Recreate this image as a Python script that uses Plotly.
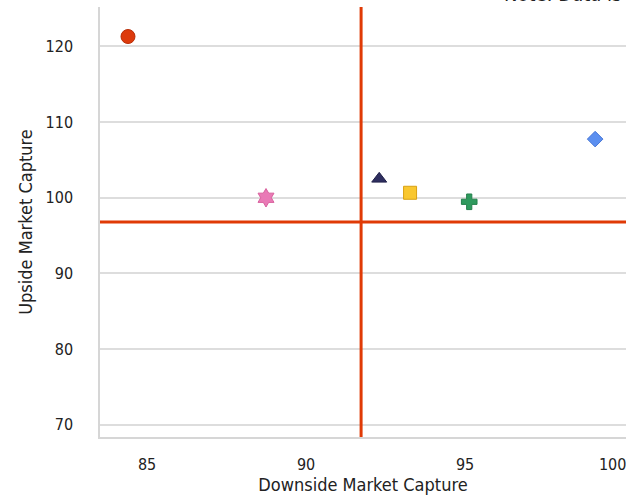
import plotly.graph_objects as go

downside = [84.40, 88.74, 92.30, 93.27, 95.13, 99.09]
upside = [121.3, 100.0, 102.5, 100.66, 99.47, 107.75]
symbols = ["circle", "hexagram", "triangle-up", "square", "cross", "diamond"]
fills = ["#DD3A0C", "#E97AB6", "#2E2E5F", "#F9C72F", "#2F9A5E", "#5B8FF0"]
lines = ["#B82E08", "#D9619E", "#22224A", "#D9A012", "#24804C", "#4A78D6"]
sizes = [14, 14, 13, 13, 13, 12]

x_ticks = [85, 90, 95, 100]
x_labels = ["85", "90", "95", "100"]
y_ticks = [70, 80, 90, 100, 110, 120]
x_mid = 91.73
y_mid = 96.8
x_range = [83.52, 100.06]
y_range = [68.4, 125.2]

FONT = "DejaVu Sans Condensed, DejaVu Sans, sans-serif"

fig = go.Figure()
fig.add_trace(go.Scatter(
    x=downside, y=upside, mode="markers",
    marker=dict(symbol=symbols, color=fills, size=sizes, opacity=1,
                line=dict(color=lines, width=1)),
    showlegend=False, cliponaxis=False,
))

fig.add_shape(type="line", xref="x", yref="paper", x0=x_mid, x1=x_mid, y0=0, y1=1,
              line=dict(color="#E03A06", width=3), layer="above")
fig.add_shape(type="line", xref="paper", yref="y", x0=0, x1=1, y0=y_mid, y1=y_mid,
              line=dict(color="#E03A06", width=3), layer="above")

fig.add_annotation(text="Note: Data is", xref="paper", yref="paper",
                   x=1.0, y=1.0, xanchor="left", yanchor="bottom",
                   xshift=-124, yshift=-1, showarrow=False,
                   font=dict(size=20, color="#222222"))

tick_text = list(x_labels)
tick_text[-1] = tick_text[-1] + "\u00a0" * 5

fig.update_layout(
    width=626, height=496,
    margin=dict(l=100, r=0, t=7, b=59, autoexpand=False),
    paper_bgcolor="white", plot_bgcolor="white",
    font=dict(family=FONT, size=16, color="#222222"),
    xaxis=dict(range=x_range, tickvals=x_ticks, ticktext=tick_text, automargin=False,
               showgrid=False, zeroline=False, ticklabeloverflow="allow",
               showline=True, linecolor="#D6D6D6", linewidth=1.5,
               ticks="", ticklabelstandoff=12, tickfont=dict(size=16),
               title=dict(text="Downside Market Capture", standoff=4,
                          font=dict(size=18, family=FONT))),
    yaxis=dict(range=y_range, tickvals=y_ticks, showgrid=True, gridcolor="#DDDDDD",
               automargin=False,
               gridwidth=1.5, zeroline=False, showline=True, linecolor="#D6D6D6",
               linewidth=1.5, ticks="", ticklabelstandoff=22, tickfont=dict(size=16),
               title=dict(text="Upside Market Capture", standoff=8,
                          font=dict(size=18, family=FONT))),
)

fig.write_html("out.html", config={"displayModeBar": False},
               post_script="document.body.style.margin='0';document.body.style.overflow='hidden';")
